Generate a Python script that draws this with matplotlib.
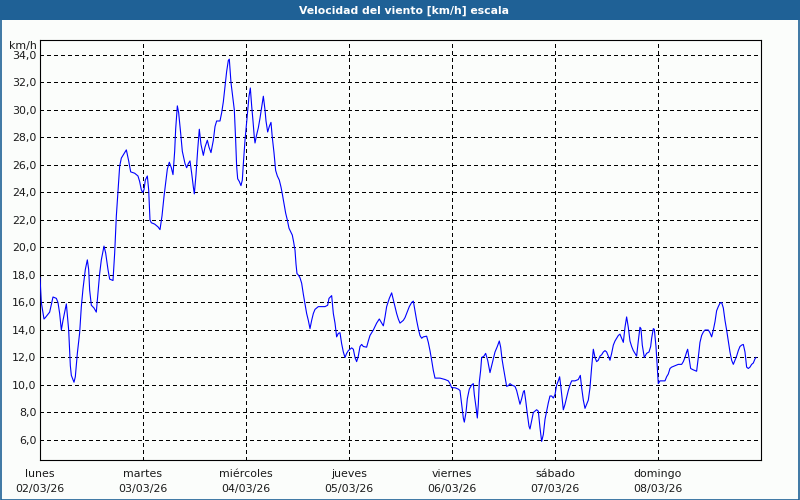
import matplotlib
matplotlib.use("Agg")
import matplotlib.pyplot as plt
from matplotlib.patches import Rectangle

# ---- data: hours since Mon 02/03/26 00:00 and wind speed (km/h) ----
hours_d1 = [0.0, 0.31, 0.93, 1.24, 2.25, 3.03, 3.81, 4.19, 4.58, 4.97, 5.36, 6.14, 6.68, 7.07, 7.30,
            7.92, 8.23, 8.70, 9.24, 9.63, 10.02, 10.56, 11.03, 11.34, 11.57, 11.96, 12.58, 13.12,
            13.51, 13.90, 14.29, 14.91, 15.30, 15.84, 16.23, 17.01, 17.40, 17.79, 18.17, 18.56,
            18.95, 19.73, 20.12, 20.66, 21.13, 22.06, 22.83, 23.22, 23.61, 23.92]
speed_d1 = [17.8, 16.0, 14.8, 14.9, 15.3, 16.4, 16.3, 16.0, 15.2, 14.0, 14.7, 15.9, 14.0, 11.4, 10.7,
            10.2, 10.6, 12.3, 13.8, 15.7, 17.0, 18.4, 19.1, 18.4, 16.9, 15.8, 15.6, 15.3,
            16.7, 18.1, 19.1, 20.1, 19.6, 18.4, 17.7, 17.6, 19.6, 22.3, 24.1, 25.9,
            26.5, 26.9, 27.1, 26.3, 25.5, 25.4, 25.2, 24.8, 24.2, 24.0]

hours_d2 = [24.23, 24.54, 25.01, 25.32, 25.63, 25.94, 26.72, 27.49, 27.96, 28.43, 28.89, 29.28, 29.67,
            30.13, 30.60, 30.99, 31.38, 31.61, 32.00, 32.31, 32.78, 33.16, 33.79, 34.17, 34.56, 34.95,
            35.34, 35.73, 35.96, 36.35, 36.74, 37.12, 37.51, 38.06, 38.45, 38.99, 39.38, 39.84, 40.39,
            40.78, 41.16, 41.94, 42.33, 42.72, 43.11, 43.49, 43.88, 44.11, 44.50, 44.81, 45.28, 45.59,
            45.82, 46.06, 46.44, 46.83, 47.14, 47.45, 47.77]
speed_d2 = [24.2, 24.9, 25.2, 24.2, 22.0, 21.8, 21.7, 21.5, 21.3, 22.3, 23.7, 24.7, 25.7,
            26.2, 25.8, 25.3, 27.0, 28.6, 30.3, 29.8, 28.3, 27.0, 26.1, 25.8, 26.1, 26.3,
            25.4, 24.4, 23.9, 25.3, 27.1, 28.6, 27.5, 26.7, 27.3, 27.8, 27.3, 26.9, 27.8,
            28.8, 29.2, 29.2, 29.8, 30.6, 31.7, 32.8, 33.6, 33.7, 32.0, 31.2, 30.0, 27.8,
            25.9, 25.0, 24.8, 24.5, 24.9, 26.4, 27.8]

hours_d3 = [48.15, 48.39, 48.70, 49.01, 49.32, 49.63, 49.94, 50.10, 50.48, 50.87, 51.26, 51.65, 52.04,
            52.43, 52.66, 53.05, 53.43, 53.82, 54.13, 54.52, 54.91, 55.30, 55.76, 56.15, 56.46, 56.85,
            57.24, 57.63, 58.02, 58.48, 58.79, 59.10, 59.42, 59.65, 59.88, 60.19, 60.58, 60.97, 61.36,
            61.75, 62.13, 62.52, 62.91, 63.30, 63.69, 64.08, 64.85, 65.63, 66.41, 67.03, 67.34, 67.96,
            68.35, 68.74, 69.12, 69.51, 69.90, 70.29, 70.68, 71.07, 71.45, 71.84]
speed_d3 = [29.1, 30.0, 31.0, 31.6, 30.3, 29.2, 28.0, 27.6, 28.2, 28.7, 29.4, 30.2, 31.0,
            30.0, 29.2, 28.4, 28.8, 29.1, 28.0, 26.9, 25.6, 25.2, 24.9, 24.4, 23.9, 23.2,
            22.5, 22.0, 21.4, 21.1, 20.9, 20.4, 19.8, 18.8, 18.1, 18.0, 17.8, 17.4, 16.6,
            15.9, 15.2, 14.7, 14.1, 14.7, 15.2, 15.5, 15.7, 15.7, 15.7, 15.8, 16.3, 16.5,
            15.2, 14.5, 13.5, 13.75, 13.8, 13.0, 12.4, 12.0, 12.3, 12.5]

hours_d4 = [72.62, 73.01, 73.40, 73.78, 74.17, 74.56, 74.95, 75.34, 76.11, 76.50, 76.89, 77.67, 78.44,
            79.06, 79.61, 80.00, 80.39, 80.77, 81.39, 81.94, 82.33, 82.72, 83.10, 83.49, 83.88, 84.27,
            84.66, 85.05, 85.43, 86.05, 86.60, 86.99, 87.38, 87.76, 88.15, 88.54, 88.93, 89.32, 90.09,
            90.48, 90.87, 91.26, 91.65, 92.04, 93.20, 94.37, 95.14, 95.53, 95.92]
speed_d4 = [12.7, 12.6, 12.0, 11.7, 12.1, 12.8, 12.95, 12.8, 12.75, 13.2, 13.6, 14.0, 14.5,
            14.8, 14.5, 14.3, 14.95, 15.7, 16.3, 16.7, 16.2, 15.7, 15.2, 14.8, 14.5, 14.6,
            14.7, 14.9, 15.2, 15.7, 16.0, 16.1, 15.4, 14.7, 14.1, 13.6, 13.4, 13.5, 13.55,
            13.1, 12.5, 11.8, 11.05, 10.5, 10.5, 10.4, 10.3, 10.1, 9.8]

hours_d5 = [96.70, 97.47, 97.86, 98.25, 98.64, 98.87, 99.26, 99.57, 100.03, 100.58, 100.97, 101.20,
            101.59, 101.90, 102.13, 102.36, 102.67, 102.91, 103.45, 103.84, 104.31, 104.85, 105.24,
            105.63, 106.02, 106.56, 107.02, 107.34, 107.65, 107.96, 108.35, 108.73, 109.12, 109.51,
            109.90, 110.68, 111.06, 111.45, 111.84, 112.23, 112.62, 112.85, 113.16, 113.55, 113.94,
            114.17, 114.56, 114.95, 115.34, 115.72, 116.11, 116.50, 116.89, 117.28, 117.67, 118.05,
            118.44, 118.83, 119.22, 119.61]
speed_d5 = [9.8, 9.7, 9.6, 8.6, 7.6, 7.3, 8.0, 9.0, 9.7, 10.0, 10.1, 9.3,
            8.4, 7.6, 8.6, 10.2, 11.05, 12.0, 12.1, 12.3, 11.8, 10.9, 11.4,
            11.9, 12.4, 12.8, 13.2, 12.75, 11.9, 11.3, 10.6, 9.9, 9.95, 10.1,
            10.0, 9.9, 9.6, 9.1, 8.6, 9.0, 9.5, 9.6, 8.9, 7.9, 7.0,
            6.8, 7.4, 8.0, 8.1, 8.2, 8.1, 6.9, 5.9, 6.4, 7.5, 8.1,
            8.7, 9.2, 9.2, 9.05]

hours_d6 = [120.00, 120.38, 120.77, 121.08, 121.39, 121.70, 121.94, 122.33, 122.71, 123.10, 123.49,
            123.88, 124.66, 125.43, 125.90, 126.21, 126.60, 126.99, 127.37, 127.76, 128.15, 128.54,
            128.93, 129.32, 129.70, 130.09, 130.48, 130.87, 131.26, 131.65, 132.03, 132.42, 132.81,
            133.20, 133.59, 133.98, 134.75, 135.14, 135.53, 135.92, 136.31, 136.69, 137.08, 137.47,
            137.86, 138.25, 138.64, 139.02, 139.41, 139.80, 140.03, 140.34, 140.81, 141.35, 141.90,
            142.29, 142.52, 142.91, 143.14, 143.53, 143.84]
speed_d6 = [9.3, 10.0, 10.3, 10.6, 9.8, 8.9, 8.2, 8.6, 9.1, 9.6, 10.0,
            10.3, 10.3, 10.4, 10.7, 9.8, 8.9, 8.3, 8.6, 8.9, 9.8, 11.3,
            12.6, 12.0, 11.7, 11.8, 12.1, 12.2, 12.4, 12.5, 12.4, 12.1, 11.8,
            12.3, 12.9, 13.2, 13.6, 13.7, 13.4, 13.1, 14.2, 14.95, 14.2, 13.2,
            12.8, 12.5, 12.3, 12.1, 13.2, 14.2, 14.1, 12.9, 12.0, 12.3, 12.4,
            12.8, 13.4, 14.1, 14.05, 12.8, 11.3]

hours_d7 = [144.07, 144.46, 145.00, 145.63, 146.01, 146.40, 146.79, 147.18, 147.96, 148.73, 149.51,
            149.90, 150.29, 150.67, 150.91, 151.22, 151.61, 152.23, 153.00, 153.39, 153.78, 154.17,
            154.56, 154.95, 155.72, 156.11, 156.50, 156.89, 157.28, 157.66, 158.05, 158.44, 158.83,
            159.22, 159.61, 159.99, 160.38, 160.77, 161.16, 161.55, 161.94, 162.32, 162.71, 163.10,
            163.49, 163.88, 164.27, 164.65, 165.04, 165.43, 165.82, 166.21, 166.60, 166.83]
speed_d7 = [10.1, 10.3, 10.3, 10.3, 10.6, 10.8, 11.2, 11.3, 11.4, 11.5, 11.5,
            11.7, 12.0, 12.4, 12.6, 12.0, 11.2, 11.1, 11.0, 12.0, 13.1, 13.6,
            13.85, 14.0, 14.0, 13.8, 13.5, 14.0, 14.6, 15.4, 15.7, 15.95, 16.0,
            15.6, 14.7, 14.0, 13.2, 12.4, 11.8, 11.5, 11.8, 12.1, 12.5, 12.8,
            12.9, 12.95, 12.4, 11.3, 11.2, 11.3, 11.5, 11.6, 11.9, 12.0]

day_names = ["lunes", "martes", "miércoles", "jueves", "viernes", "sábado", "domingo"]
day_dates = ["02/03/26", "03/03/26", "04/03/26", "05/03/26", "06/03/26", "07/03/26", "08/03/26"]
y_ticks = [6, 8, 10, 12, 14, 16, 18, 20, 22, 24, 26, 28, 30, 32, 34]

hours = hours_d1 + hours_d2 + hours_d3 + hours_d4 + hours_d5 + hours_d6 + hours_d7
speed = speed_d1 + speed_d2 + speed_d3 + speed_d4 + speed_d5 + speed_d6 + speed_d7
assert len(hours) == len(speed)

# ---- figure ----
plt.rcParams['font.family'] = ['DejaVu Sans']
W, H = 800, 500
bar_col = '#1f6196'
txt_col = '#1a1a1a'
fs = 7.9
fig = plt.figure(figsize=(W / 100, H / 100), dpi=100)
fig.patch.set_facecolor('#fbfdfb')

fig.add_artist(Rectangle((0, 1 - 20 / H), 1, 20 / H, transform=fig.transFigure,
                         facecolor=bar_col, edgecolor='none'))
fig.add_artist(Rectangle((0.5 / W, 0.5 / H), 1 - 1.5 / W, 1 - 1.5 / H, transform=fig.transFigure,
                         fill=False, edgecolor=bar_col, lw=1.2))
fig.text(0.505, 1 - 10.5 / H, "Velocidad del viento [km/h] escala", color='white',
         fontsize=7.8, fontweight='bold', ha='center', va='center')

ax = fig.add_axes([40 / W, 40 / H, 721 / W, 420 / H])
ax.set_facecolor('#fbfdfb')
ax.plot(hours, speed, color='#0000ff', lw=0.8, antialiased=True, zorder=3)

ax.set_xlim(0, 168)
ax.set_ylim(4.545, 35.09)
ax.set_yticks(y_ticks)
ax.set_yticklabels([f"{v:.1f}".replace('.', ',') for v in y_ticks], fontsize=fs, color=txt_col)
ax.set_xticks([24 * i for i in range(len(day_names))])
ax.set_xticklabels([f"{n}\n{d}" for n, d in zip(day_names, day_dates)], fontsize=fs,
                   color=txt_col, linespacing=1.6)
ax.tick_params(axis='y', length=0, pad=2.5)
ax.tick_params(axis='x', length=0, pad=6.5)
ax.grid(True, color='black', lw=0.72, linestyle=(0, (3, 3)), antialiased=False)
for s in ax.spines.values():
    s.set_color('black')
    s.set_linewidth(0.8)

fig.text(37 / W, 1 - 46 / H, "km/h", fontsize=fs, ha='right', va='center', color=txt_col)

fig.savefig("out.png", dpi=100, facecolor=fig.get_facecolor())
